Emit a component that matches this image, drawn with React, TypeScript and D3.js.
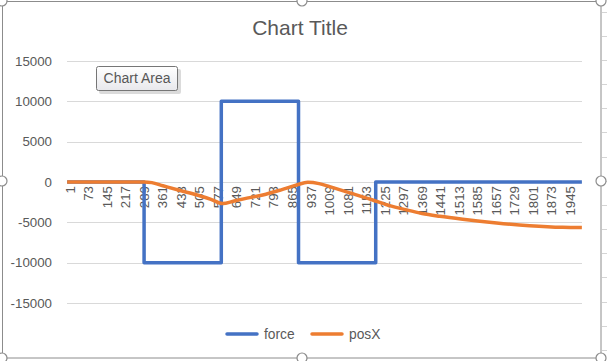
import React from "react";
import * as d3 from "d3";

const N = 2001;
const categoryLabels = [1, 73, 145, 217, 289, 361, 433, 505, 577, 649, 721, 793, 865, 937, 1009, 1081, 1153, 1225, 1297, 1369, 1441, 1513, 1585, 1657, 1729, 1801, 1873, 1945];
const yTicks = [15000, 10000, 5000, 0, -5000, -10000, -15000];

const forceIdx = [1, 300, 300, 600, 600, 900, 900, 1200, 1200, 2001];
const forceVal = [0, 0, -10000, -10000, 10000, 10000, -10000, -10000, 0, 0];

const posXIdx = [1, 300, 330, 373, 440, 506, 560, 605, 650, 700, 761, 830, 893, 936, 980, 1021, 1100, 1188, 1250, 1320, 1380, 1449, 1538, 1670, 1798, 1926, 2001];
const posXVal = [0, 0, -80, -460, -1050, -1610, -2150, -2680, -2350, -2000, -1610, -1000, -370, -40, -200, -580, -1350, -2230, -2900, -3470, -3900, -4250, -4620, -5080, -5420, -5620, -5650];

const seriesNames = ["force", "posX"];
const colors = ["#4472C4", "#ED7D31"];

const W = 607, H = 361;
const FONT = "'Liberation Sans', Arial, sans-serif";

export default function App() {
  const x = d3.scaleLinear().domain([0.5, N + 0.5]).range([67, 582]);
  const y = d3.scaleLinear().domain([-15000, 15000]).range([303, 61]);

  const line = d3.line<[number, number]>().x(d => x(d[0])).y(d => y(d[1]));
  const smooth = d3.line<[number, number]>().x(d => x(d[0])).y(d => y(d[1])).curve(d3.curveMonotoneX);

  const forcePts = forceIdx.map((v, i) => [v, forceVal[i]] as [number, number]);
  const posPts = posXIdx.map((v, i) => [v, posXVal[i]] as [number, number]);

  const handles: [number, number][] = [[2, 1], [302, 1], [601, 1], [2, 181], [601, 181], [2, 358], [302, 358], [601, 358]];
  const sheetLines = [12, 36, 60, 84, 108, 132, 157, 181, 205, 229, 253, 277, 302, 326, 350];

  return (
    <svg width={W} height={H} style={{ position: "absolute", left: 0, top: 0, background: "#fff" }} fontFamily={FONT}>
      <defs>
        <linearGradient id="tip" x1="0" y1="0" x2="0" y2="1">
          <stop offset="0" stopColor="#ffffff" />
          <stop offset="1" stopColor="#e8e8ec" />
        </linearGradient>
      </defs>
      <rect x={0} y={0} width={W} height={H} fill="#fff" />
      {sheetLines.map(v => (
        <line key={v} x1={602} x2={607} y1={v + 0.5} y2={v + 0.5} stroke="#d4d4d4" />
      ))}
      <rect x={2.5} y={1.5} width={598.5} height={356.5} fill="#fff" stroke="#8c8c8c" strokeWidth={1} />

      <text x={300} y={35} textAnchor="middle" fontSize={21} fill="#595959">Chart Title</text>

      {yTicks.map(t => (
        <g key={t}>
          <line x1={67} x2={582} y1={Math.round(y(t)) + 0.5} y2={Math.round(y(t)) + 0.5} stroke="#d9d9d9" />
          <text x={52} y={y(t)} dy="0.35em" textAnchor="end" fontSize={13.3} fill="#595959">{t}</text>
        </g>
      ))}

      {categoryLabels.map(c => (
        <text key={c} transform={`translate(${x(c) + 7.5},186) rotate(-90)`} textAnchor="end" fontSize={13.3} fill="#595959">{c}</text>
      ))}

      <path d={line(forcePts) || ""} fill="none" stroke={colors[0]} strokeWidth={3.5} strokeLinejoin="round" />
      <path d={smooth(posPts) || ""} fill="none" stroke={colors[1]} strokeWidth={3.5} strokeLinejoin="round" />

      {seriesNames.map((s, i) => {
        const lx = i === 0 ? 225 : 310;
        return (
          <g key={s}>
            <line x1={lx + 2} x2={lx + 32} y1={334} y2={334} stroke={colors[i]} strokeWidth={3.5} strokeLinecap="round" />
            <text x={lx + 39} y={334} dy="0.35em" fontSize={13.8} fill="#595959">{s}</text>
          </g>
        );
      })}

      <rect x={99} y={69} width={82} height={25} fill="#b8b8b8" opacity={0.5} rx={2} />
      <rect x={96.5} y={66.5} width={81} height={24} fill="url(#tip)" stroke="#767676" rx={2} />
      <text x={137} y={78.5} dy="0.35em" textAnchor="middle" fontSize={14} fill="#575757">Chart Area</text>

      {handles.map(([hx, hy], i) => (
        <circle key={i} cx={hx} cy={hy} r={5} fill="#fff" stroke="#8c8c8c" strokeWidth={1.2} />
      ))}
    </svg>
  );
}
